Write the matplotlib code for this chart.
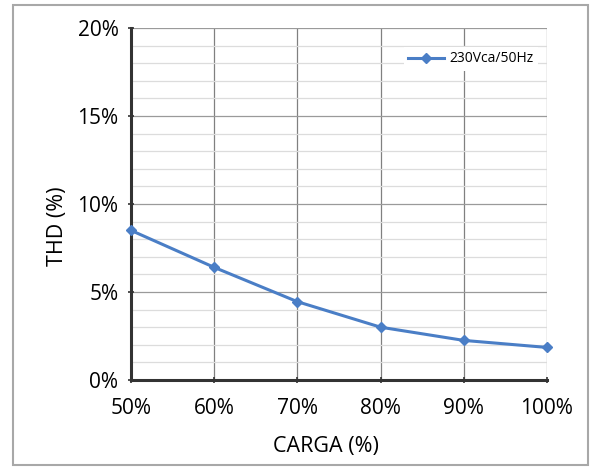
# THD vs load chart

import matplotlib.pyplot as plt
from matplotlib.patches import Rectangle
from matplotlib.ticker import MultipleLocator, FuncFormatter

plt.rcParams["font.family"] = ["Open Sans", "DejaVu Sans"]

# --------------------------------------------------------------------
# Data
# --------------------------------------------------------------------
carga = [50, 60, 70, 80, 90, 100]
carga_labels = ["50%", "60%", "70%", "80%", "90%", "100%"]
thd = [8.5, 6.4, 4.45, 3.0, 2.25, 1.85]
series_name = "230Vca/50Hz"

# --------------------------------------------------------------------
# Plot
# --------------------------------------------------------------------
fig = plt.figure(figsize=(5.9, 4.68), dpi=100)
ax = fig.add_axes([131 / 590, 1 - 380 / 468, 416 / 590, 352 / 468])

# outer frame around the whole figure
fig.patches.append(Rectangle((13 / 590, 3 / 468), 575 / 590, 460 / 468,
                             transform=fig.transFigure, fill=False,
                             edgecolor="#a8a8a8", linewidth=1.5))

ax.plot(carga, thd, color="#4a7ec6", linewidth=2.2, marker="D",
        markersize=5, label=series_name, zorder=3, clip_on=False)

ax.set_xlim(50, 100)
ax.set_ylim(0, 20)
ax.set_xticks(carga)
ax.set_xticklabels(carga_labels)
ax.yaxis.set_major_locator(MultipleLocator(5))
ax.yaxis.set_minor_locator(MultipleLocator(1))
ax.yaxis.set_major_formatter(FuncFormatter(lambda v, p: f"{v:.0f}%"))

ax.grid(axis="y", which="minor", color="#dcdcdc", linewidth=0.9)
ax.grid(axis="y", which="major", color="#9a9a9a", linewidth=0.9)
ax.grid(axis="x", which="major", color="#808080", linewidth=0.9)
ax.set_axisbelow(True)

for side in ["top", "right"]:
    ax.spines[side].set_visible(False)
ax.spines["left"].set_linewidth(2.2)
ax.spines["left"].set_color("#333333")
ax.spines["bottom"].set_linewidth(2.2)
ax.spines["bottom"].set_color("#333333")

ax.tick_params(axis="both", which="major", labelsize=15, length=4,
               width=1.2, color="#333333", direction="inout")
ax.tick_params(axis="y", which="minor", length=0)
ax.tick_params(axis="x", pad=11)
ax.tick_params(axis="y", pad=7)

ax.set_xlabel("CARGA (%)", fontsize=15.5, va="center")
ax.set_ylabel("THD (%)", fontsize=15.5, va="center")
ax.xaxis.set_label_coords(0.468, -0.188)
ax.yaxis.set_label_coords(-0.176, 0.4375)

ax.legend(loc="upper right", bbox_to_anchor=(0.995, 0.965), fontsize=10,
          frameon=True, framealpha=1, edgecolor="none", fancybox=False,
          handlelength=2.6, handletextpad=0.4, borderpad=0.3)

fig.savefig("out.png", dpi=100)
